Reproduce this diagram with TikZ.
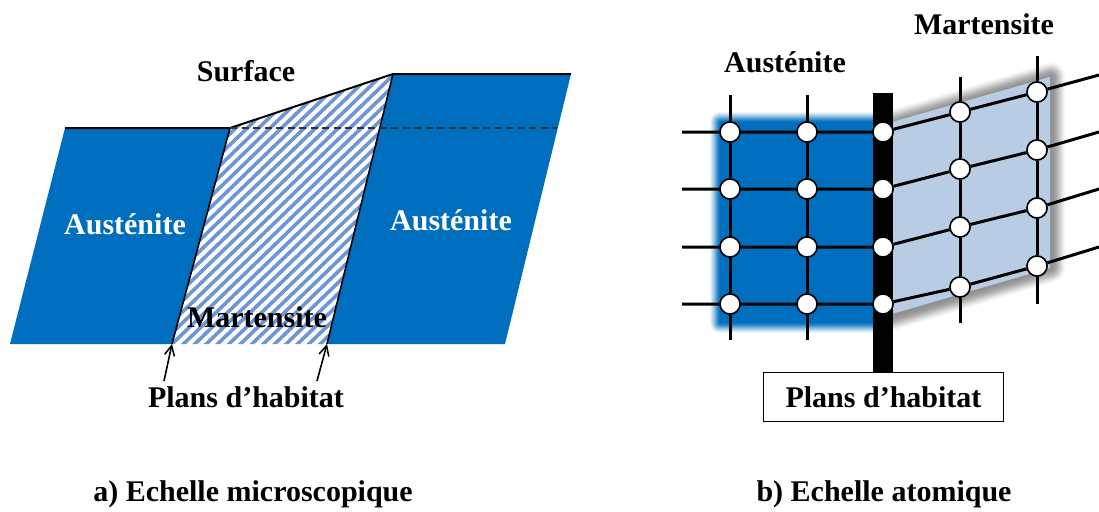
\documentclass[tikz,border=0pt]{standalone}
\usepackage{fontspec}
\setmainfont{Liberation Serif}
\usetikzlibrary{arrows.meta}
\definecolor{ausblue}{RGB}{0,110,190}
\definecolor{marblue}{RGB}{184,204,228}
\definecolor{hatchblue}{RGB}{110,150,210}
\tikzset{
  lab/.style={font=\bfseries\fontsize{30}{32}\selectfont,inner sep=0pt,text=black},
  wlab/.style={lab,text=white},
  atom/.style={circle,draw=black,fill=white,line width=1.5pt,minimum size=20pt,inner sep=0pt},
  bond/.style={line width=3pt,black},
  thin edge/.style={line width=2pt,black},
  callout/.style={-{Straight Barb[length=10pt,width=10pt,line width=1.5pt]},line width=1.6pt,black}
}
\begin{document}
\begin{tikzpicture}[x=1pt,y=-1pt]
\useasboundingbox (0,0) rectangle (1099,511);
% --- a) microscopic
\fill[ausblue] (65,128) -- (230,128) -- (172,344) -- (10,344) -- cycle;
\fill[ausblue] (393,74) -- (571,74) -- (505,344) -- (327,344) -- cycle;
\begin{scope}
  \clip (230,128) -- (393,74) -- (327,344) -- (172,344) -- cycle;
  \fill[white] (170,70) rectangle (395,345);
  \foreach \k in {-30,...,40}
    \draw[hatchblue,line width=3.6pt] ({172+\k*11.4-2},346) -- ++(300,-290);
\end{scope}
\coordinate (a1) at (65,128);
\coordinate (a2) at (230,128);
\coordinate (a3) at (393,74);
\coordinate (a4) at (571,74);
\coordinate (a5) at (172,344);
\coordinate (a6) at (327,344);
\coordinate (a7) at (557,128);
\draw[thin edge] (a1) -- (a2) -- (a3) -- (a4);
\draw[thin edge,line width=1.6pt] (a2) -- (a5);
\draw[thin edge,line width=1.6pt] (a3) -- (a6);
\draw[line width=1.5pt,black!80,dash pattern=on 7pt off 4.5pt] (a2) -- (a7);
\node[lab] (surf) at (246,71) {Surface};
\node[wlab] (aus1) at (125,224) {Austénite};
\node[wlab] (aus2) at (451,220) {Austénite};
\node[lab] (mart1) at (257,317) {Martensite};
\node[lab] (plans1) at (246,397) {Plans d’habitat};
\coordinate (p1) at (164,381);
\coordinate (p2) at (317,381);
\draw[callout] (p1) -- (a5);
\draw[callout] (p2) -- (a6);
\node[lab] (cap1) at (253,494) {a) Echelle microscopique};
% --- b) atomic
% shadow
\foreach \w/\m in {28/3,26/6,24/9,22/13,20/17,18/21,16/25,14/29,12/33,10/36,8/38,6/40,4/42,2/43}
  \draw[line width=\w pt,line join=round,fill=black!\m!white,draw=black!\m!white]
    (893,124) -- (1051,77) -- (1051,268) -- (893,316) -- cycle;
\fill[marblue] (885,124) -- (1050,77) -- (1050,268) -- (885,316) -- cycle;
% austenite glow
\foreach \w/\m in {20/6,18/14,16/24,14/34,12/45,10/56,8/67,6/78,4/88,2/95}
  \draw[line width=\w pt,line join=round,fill=ausblue!\m!white,draw=ausblue!\m!white]
    (720,122) -- (873,122) -- (873,323) -- (720,323) -- cycle;
\fill[ausblue] (720,122) rectangle (873,323);
% coordinates
\foreach \c/\x in {A/730,B/807}{
  \coordinate (\c t) at (\x,95);
  \coordinate (\c b) at (\x,340);
}
\coordinate (Ct) at (960,77); \coordinate (Cb) at (960,323);
\coordinate (Dt) at (1037,56); \coordinate (Db) at (1037,304);
\coordinate (L1) at (682,132); \coordinate (L2) at (682,189);
\coordinate (L3) at (682,247); \coordinate (L4) at (682,304);
\coordinate (R1) at (1099,75); \coordinate (R2) at (1099,132);
\coordinate (R3) at (1099,189); \coordinate (R4) at (1099,247);
\coordinate (bart) at (883,93); \coordinate (barb) at (883,372);
% atoms
\foreach \n/\y in {1/132,2/189,3/247,4/304}{
  \node[atom] (A\n) at (730,\y) {};
  \node[atom] (B\n) at (807,\y) {};
}
\foreach \n/\y/\z in {1/112/92,2/169/150,3/227/208,4/287/266}{
  \node[atom] (C\n) at (960,\y) {};
  \node[atom] (D\n) at (1037,\z) {};
}
% bonds behind the atoms
\foreach \c in {A,B,C,D}
  \draw[bond] (\c t) -- (\c 1) -- (\c 2) -- (\c 3) -- (\c 4) -- (\c b);
\draw[line width=20pt,black] (bart) -- (barb);
\foreach \n/\y in {1/132,2/189,3/247,4/304}
  \node[atom] (E\n) at (883,\y) {};
\foreach \n in {1,2,3,4}
  \draw[bond] (L\n) -- (A\n) -- (B\n) -- (E\n) -- (C\n) -- (D\n) -- (R\n);
% atoms on top
\foreach \n/\y in {1/132,2/189,3/247,4/304}{
  \node[atom] at (730,\y) {};
  \node[atom] at (807,\y) {};
  \node[atom] at (883,\y) {};
}
\foreach \n/\y/\z in {1/112/92,2/169/150,3/227/208,4/287/266}{
  \node[atom] at (960,\y) {};
  \node[atom] at (1037,\z) {};
}
\node[lab] (aus3) at (785,62) {Austénite};
\node[lab] (mart2) at (984,24) {Martensite};
\node[lab,draw=black,line width=1.5pt,fill=white,minimum width=240pt,minimum height=49pt] (plans2) at (883.5,397) {Plans d’habitat};
\node[lab] (cap2) at (884,494) {b) Echelle atomique};
\end{tikzpicture}
\end{document}
